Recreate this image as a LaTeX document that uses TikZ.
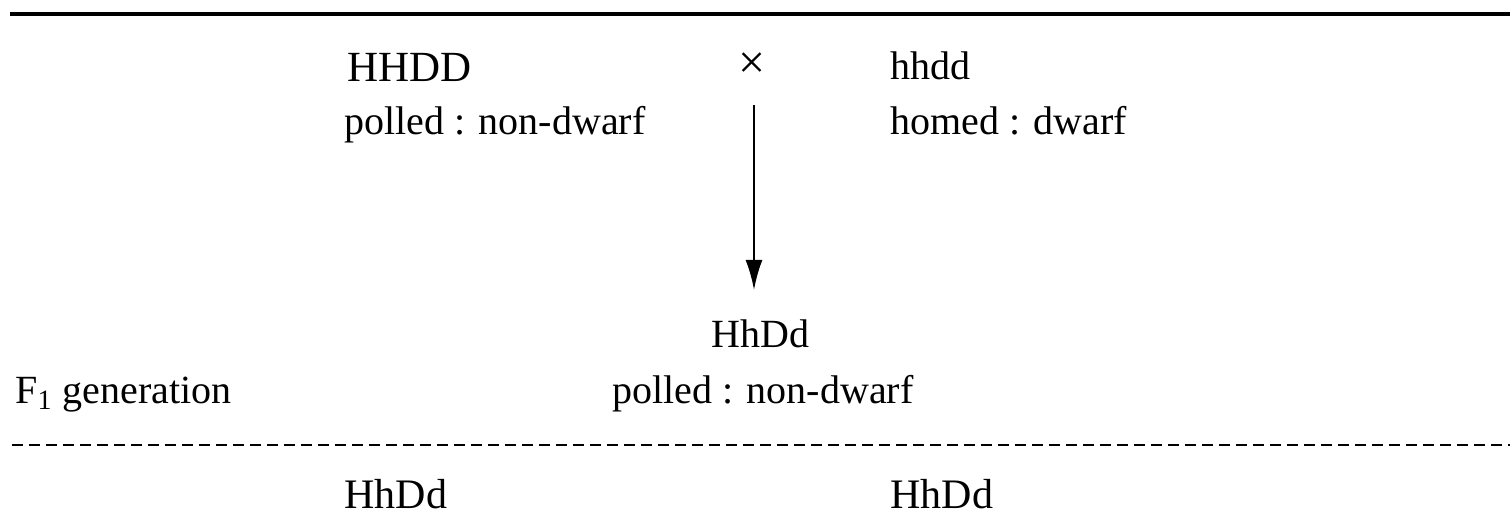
\documentclass[tikz,border=0pt]{standalone}
\usepackage{fontspec}
\setmainfont{Liberation Serif}
\usetikzlibrary{arrows.meta}
\begin{document}
\begin{tikzpicture}[x=0.5pt,y=-0.5pt,
  lbl/.style={inner sep=0pt,anchor=base west,font=\fontsize{20}{24}\selectfont},
  biglbl/.style={lbl,font=\fontsize{21.5}{26}\selectfont},
  rule/.style={line width=1.6pt},
  dashrule/.style={line width=1.2pt,dash pattern=on 5.5pt off 3pt},
  arr/.style={line width=1.1pt,-{Latex[length=15pt,width=8.5pt]}}]
\useasboundingbox (0,0) rectangle (1510,518);
% rules
\coordinate (tl) at (10,14);
\coordinate (tr) at (1510,14);
\draw[rule] (tl) -- (tr);
\coordinate (dl) at (12,445);
\coordinate (dr) at (1510,445);
\draw[dashrule] (dl) -- (dr);
% parents
\node[biglbl] (p1) at (347,82) {HHDD};
\node[lbl] (p1ph) at (344,135) {polled : non-dwarf};
\node[inner sep=0pt,font=\fontsize{24}{28}\selectfont] (cross) at (752,66) {×};
\node[lbl] (p2) at (890,80) {hhdd};
\node[lbl] (p2ph) at (890,135) {homed : dwarf};
% arrow
\coordinate (atop) at (754,105);
\coordinate (abot) at (754,290);
\draw[arr] (atop) -- (abot);
% F1
\node[lbl] (f1) at (711,347) {HhDd};
\node[lbl] (f1ph) at (612,403) {polled : non-dwarf};
\node[lbl] (f1gen) at (15,403) {F\textsubscript{1} generation};
% F1 x F1
\node[lbl,font=\fontsize{21}{25}\selectfont] (g1) at (344,508) {HhDd};
\node[lbl,font=\fontsize{21}{25}\selectfont] (g2) at (890,508) {HhDd};
\end{tikzpicture}
\end{document}
